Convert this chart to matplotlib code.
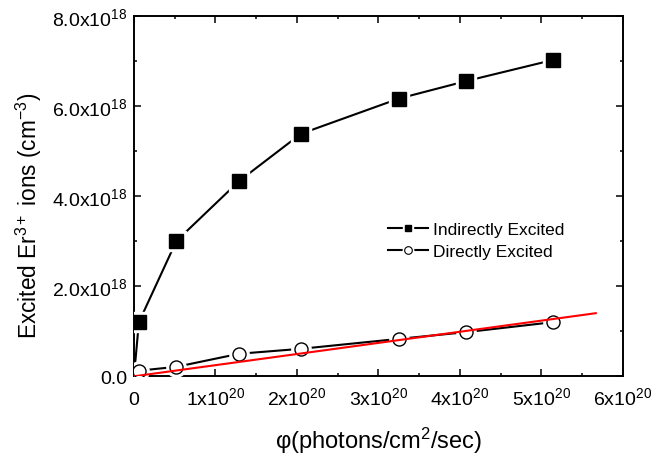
import matplotlib
matplotlib.use("Agg")
import matplotlib.pyplot as plt
from matplotlib.lines import Line2D
from matplotlib.ticker import FixedLocator, MultipleLocator, FuncFormatter

plt.rcParams['font.family'] = ['Liberation Sans', 'DejaVu Sans']
plt.rcParams['mathtext.fontset'] = 'custom'
plt.rcParams['mathtext.rm'] = 'Liberation Sans'
plt.rcParams['mathtext.it'] = 'Liberation Sans:italic'
plt.rcParams['mathtext.default'] = 'regular'

# photon flux in units of 1e20 photons/cm^2/sec, populations in units of 1e18 cm^-3
ind_x = [0.0, 0.06, 0.52, 1.29, 2.05, 3.25, 4.08, 5.15]
ind_y = [0.0, 1.20, 3.00, 4.33, 5.38, 6.16, 6.55, 7.02]
dir_x = [0.06, 0.52, 1.29, 2.05, 3.25, 4.08, 5.14]
dir_y = [0.125, 0.21, 0.50, 0.61, 0.83, 0.98, 1.20]
fit_x = [0.0, 5.67]
fit_y = [0.0, 1.40]

fig = plt.figure(figsize=(6.72, 4.56), dpi=100)
ax = fig.add_axes([0.1994, 0.1726, 0.7272, 0.7908])

ms = 9.4
gap = 4.5
# indirectly excited: line, white halo for the gap, then the squares
ax.plot(ind_x, ind_y, color='black', lw=1.5, zorder=2)
ax.plot(ind_x[1:], ind_y[1:], ls='none', marker='s', ms=ms + gap, mfc='white', mec='white', zorder=3)
ax.plot(ind_x[1:], ind_y[1:], ls='none', marker='s', ms=ms, mfc='black', mec='black', zorder=4)
# directly excited
ax.plot(dir_x, dir_y, color='black', lw=1.5, zorder=2)
ax.plot(dir_x, dir_y, ls='none', marker='o', ms=ms + gap, mfc='white', mec='white', zorder=3)
ax.plot(dir_x, dir_y, ls='none', marker='o', ms=ms, mfc='white', mec='black', mew=1.0, zorder=4)
# linear fit
ax.plot(fit_x, fit_y, color='red', lw=1.5, zorder=5)

ax.set_xlim(0, 6)
ax.set_ylim(0, 8)
ax.xaxis.set_major_locator(FixedLocator([0, 1, 2, 3, 4, 5, 6]))
ax.xaxis.set_minor_locator(MultipleLocator(0.5))
ax.yaxis.set_major_locator(FixedLocator([0, 2, 4, 6, 8]))
ax.yaxis.set_minor_locator(MultipleLocator(1))
ax.xaxis.set_major_formatter(FuncFormatter(lambda v, p: "0" if v == 0 else "%dx10$^{20}$" % round(v)))
ax.yaxis.set_major_formatter(FuncFormatter(lambda v, p: "0.0" if v == 0 else "%.1fx10$^{18}$" % v))

ax.tick_params(which='both', direction='in', top=True, right=True, width=1.1, labelsize=14, colors='black')
ax.tick_params(which='major', length=5)
ax.tick_params(which='minor', length=2.5)
ax.tick_params(axis='x', which='major', pad=20)
ax.tick_params(axis='y', which='major', pad=5)
for lab in ax.get_xticklabels():
    lab.set_verticalalignment('baseline')
for s in ax.spines.values():
    s.set_linewidth(1.4)

ax.set_xlabel("φ(photons/cm$^2$/sec)", fontsize=17, va='baseline')
ax.set_ylabel("Excited Er$^{3+}$ ions (cm$^{-3}$)", fontsize=16.3)
ax.xaxis.set_label_coords(0.5, -0.199)
ax.yaxis.set_label_coords(-0.185, 0.447)

# legend handles with small markers and a gap around them
h1 = (Line2D([], [], color='black', lw=1.5),
      Line2D([], [], ls='none', marker='s', ms=7.5, mfc='white', mec='white'),
      Line2D([], [], ls='none', marker='s', ms=5, mfc='black', mec='black'))
h2 = (Line2D([], [], color='black', lw=1.5),
      Line2D([], [], ls='none', marker='o', ms=7.5, mfc='white', mec='white'),
      Line2D([], [], ls='none', marker='o', ms=5.5, mfc='white', mec='black', mew=0.8))
ax.legend([h1, h2], ["Indirectly Excited", "Directly Excited"], loc='upper left',
          bbox_to_anchor=(0.52, 0.427), frameon=False, fontsize=12.5,
          handlelength=2.3, handletextpad=0.3, labelspacing=0.38, borderpad=0, borderaxespad=0)

fig.savefig("out.png", dpi=100)
